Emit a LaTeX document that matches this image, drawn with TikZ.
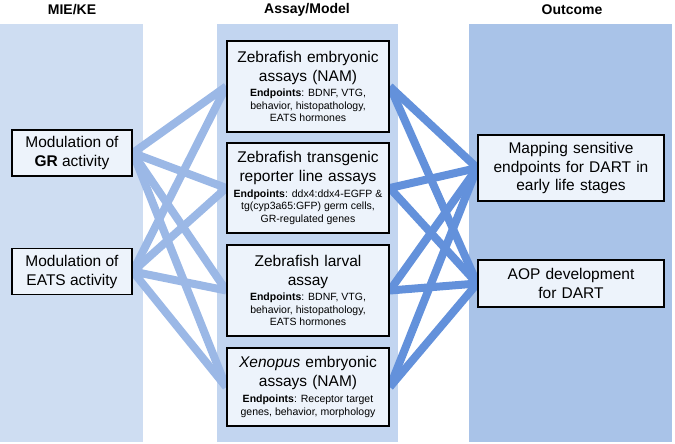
\documentclass[tikz,border=0pt]{standalone}
\usepackage{fontspec}
\setmainfont{Liberation Sans}
\usepackage{xcolor}
\usetikzlibrary{positioning,calc}
\pgfdeclarelayer{bg}
\pgfdeclarelayer{links}
\pgfsetlayers{bg,links,main}

\definecolor{paneleft}{HTML}{CEDDF2}
\definecolor{panemid}{HTML}{C2D5F0}
\definecolor{paneright}{HTML}{A9C3E8}
\definecolor{boxfill}{HTML}{EDF3FB}
\definecolor{linkleft}{HTML}{9BB8E6}
\definecolor{linkright}{HTML}{6391DB}

\newcommand{\epfont}{\fontsize{10.5}{12.6}\selectfont\centering\spaceskip=0pt\xspaceskip=0pt}

\begin{document}
\begin{tikzpicture}[
  x=1pt, y={(0pt,-1pt)},
  head/.style={font=\fontsize{14}{16}\selectfont\bfseries},
  box/.style={draw, line width=1.6pt, fill=boxfill, align=center, inner sep=2pt,
    font=\fontsize{15.5}{19}\selectfont},
  kebox/.style={box, minimum width=120pt, minimum height=46pt},
  assaybox/.style={box, text width=158pt, minimum width=162pt},
  outbox/.style={box, text width=182pt, minimum width=186pt, font=\fontsize{15.5}{18.5}\selectfont},
  link/.style={line width=8pt}
]
\useasboundingbox (0,0) rectangle (675,444);

% column headings
\node[head] (hke) at (72,10) {MIE/KE};
\node[head] (hassay) at (307,10) {Assay/Model};
\node[head] (hout) at (572,10) {Outcome};

% MIE/KE
\node[kebox] (gr) at (72,153) {Modulation of\\\textbf{GR} activity};
\node[kebox] (eats) at (72,271.5) {Modulation of\\EATS activity};

% assays
\node[assaybox, minimum height=91pt] (z1) at (308,86.5) {Zebrafish embryonic\\assays (NAM)\\[3pt]
  {\epfont\textbf{Endpoints}: BDNF, VTG,\par behavior, histopathology,\par EATS hormones\par}};
\node[assaybox, minimum height=90pt] (z2) at (308,188) {Zebrafish transgenic\\reporter line assays\\[3pt]
  {\epfont\textbf{Endpoints}: ddx4:ddx4-EGFP \&\par tg(cyp3a65:GFP) germ cells,\par GR-regulated genes\par}};
\node[assaybox, minimum height=91pt] (z3) at (308,290.5) {Zebrafish larval\\assay\\[3pt]
  {\epfont\textbf{Endpoints}: BDNF, VTG,\par behavior, histopathology,\par EATS hormones\par}};
\node[assaybox, minimum height=78pt] (z4) at (308,387) {\textit{Xenopus} embryonic\\assays (NAM)\\[3pt]
  {\epfont\textbf{Endpoints}: Receptor target\par genes, behavior, morphology\par}};

% outcomes
\node[outbox, minimum height=66pt] (map) at (571,168) {Mapping sensitive\\endpoints for DART in\\early life stages};
\node[outbox, minimum height=47pt] (aop) at (571,283.5) {AOP development\\for DART};

% links
\begin{pgfonlayer}{links}
\foreach \k in {gr,eats}
  \foreach \a in {z1,z2,z3,z4}
    \draw[link, linkleft] (\k.east) -- (\a.west);
\foreach \a in {z1,z2,z3,z4}
  \foreach \o in {map,aop}
    \draw[link, linkright] (\a.east) -- (\o.west);
\end{pgfonlayer}

% panels
\begin{pgfonlayer}{bg}
\fill[paneleft] (0,24) rectangle (143,442);
\fill[panemid] (217,24) rectangle (398,442);
\fill[paneright] (469,24) rectangle (672,442);
\end{pgfonlayer}

\end{tikzpicture}
\end{document}
